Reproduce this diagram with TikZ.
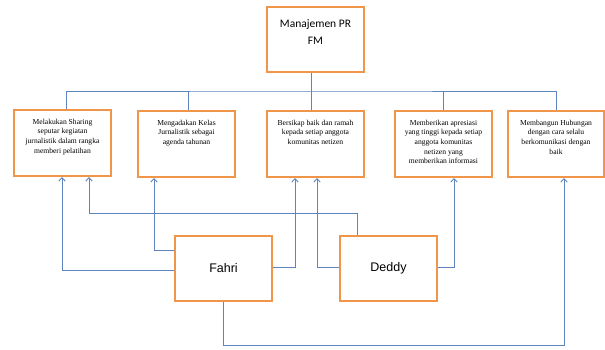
\documentclass[tikz,border=0pt]{standalone}
\usepackage{fontspec}
\usetikzlibrary{arrows.meta,calc}
\newfontfamily\serifsmall{Liberation Serif}
\newfontfamily\topfont{Carlito}
\newfontfamily\namefont{Liberation Sans}
\definecolor{boxorange}{RGB}{240,150,75}
\definecolor{lineblue}{RGB}{95,132,190}
\newcommand\boxtxt[1]{\begin{minipage}[c][58pt][t]{92pt}\centering\serifsmall\fontsize{7.6}{9.6}\selectfont\vspace*{5pt}#1\end{minipage}}
\newcommand\toptxt[1]{\begin{minipage}[c][56pt][t]{92pt}\centering\topfont\fontsize{11.5}{17.5}\selectfont\vspace*{8pt}#1\end{minipage}}
\begin{document}
\begin{tikzpicture}[x=1pt,y=-1pt,
  obox/.style={draw=boxorange,line width=2pt,fill=white,inner sep=2pt,minimum width=97pt,minimum height=66pt},
  conn/.style={draw=lineblue,line width=0.9pt},
  arr/.style={conn,-{Straight Barb[length=3.5pt,width=6.5pt,line width=0.9pt]}}]
\useasboundingbox[fill=white] (0,0) rectangle (605,349);

\node[obox,minimum height=65pt] (top) at (315.5,39.5) {\toptxt{Manajemen PR\\FM}};

\node[obox] (b1) at (62.5,143) {\boxtxt{Melakukan Sharing\\ seputar kegiatan\\ jurnalistik dalam rangka\\ memberi pelatihan}};
\node[obox] (b2) at (186.5,144) {\boxtxt{Mengadakan Kelas\\ Jurnalistik sebagai\\ agenda tahunan}};
\node[obox] (b3) at (315.5,144) {\boxtxt{Bersikap baik dan ramah\\ kepada setiap anggota\\ komunitas netizen}};
\node[obox] (b4) at (443.5,144) {\boxtxt{Memberikan apresiasi\\ yang tinggi kepada setiap\\ anggota komunitas\\ netizen yang\\ memberikan informasi}};
\node[obox,minimum width=92pt] (b5) at (556,144) {\boxtxt{Membangun Hubungan\\ dengan cara selalu\\ berkomunikasi dengan\\ baik}};

\node[obox,minimum height=65pt,font=\namefont\fontsize{12.5}{15}\selectfont] (fahri) at (223.5,268.5) {Fahri};
\node[obox,minimum height=65pt,font=\namefont\fontsize{12.5}{15}\selectfont] (deddy) at (388.5,268.5) {Deddy};

% top tree
\draw[conn] ([xshift=-4.5pt]top.south) -- ++(0,18) coordinate (bus);
\draw[conn] ([xshift=3.5pt]b1.north) |- (bus) -| (b5.north);
\draw[conn] ([xshift=1.5pt]b2.north) -- ([xshift=1.5pt]b2.north |- bus);
\draw[conn] ([xshift=-4.5pt]b3.north) -- (bus);
\draw[conn] ([xshift=-0.5pt]b4.north) -- ([xshift=-0.5pt]b4.north |- bus);

% arrows
\draw[arr] ([yshift=-1.5pt]fahri.west) -| ([xshift=-0.5pt]b1.south);
\draw[arr] ([yshift=18.5pt]fahri.west) -| ([xshift=-32.5pt]b2.south);
\draw[arr] ([xshift=-31.5pt]deddy.north) -- ++(0,-22) -| ([xshift=26.5pt]b1.south);
\draw[arr] ([yshift=1.5pt]fahri.east) -| ([xshift=-20.5pt]b3.south);
\draw[arr] ([yshift=1.5pt]deddy.west) -| ([xshift=1.5pt]b3.south);
\draw[arr] ([yshift=1.5pt]deddy.east) -| ([xshift=10.5pt]b4.south);
\draw[arr] ([xshift=-0.5pt]fahri.south) -- ++(0,43) -| ([xshift=8pt]b5.south);
\end{tikzpicture}
\end{document}
